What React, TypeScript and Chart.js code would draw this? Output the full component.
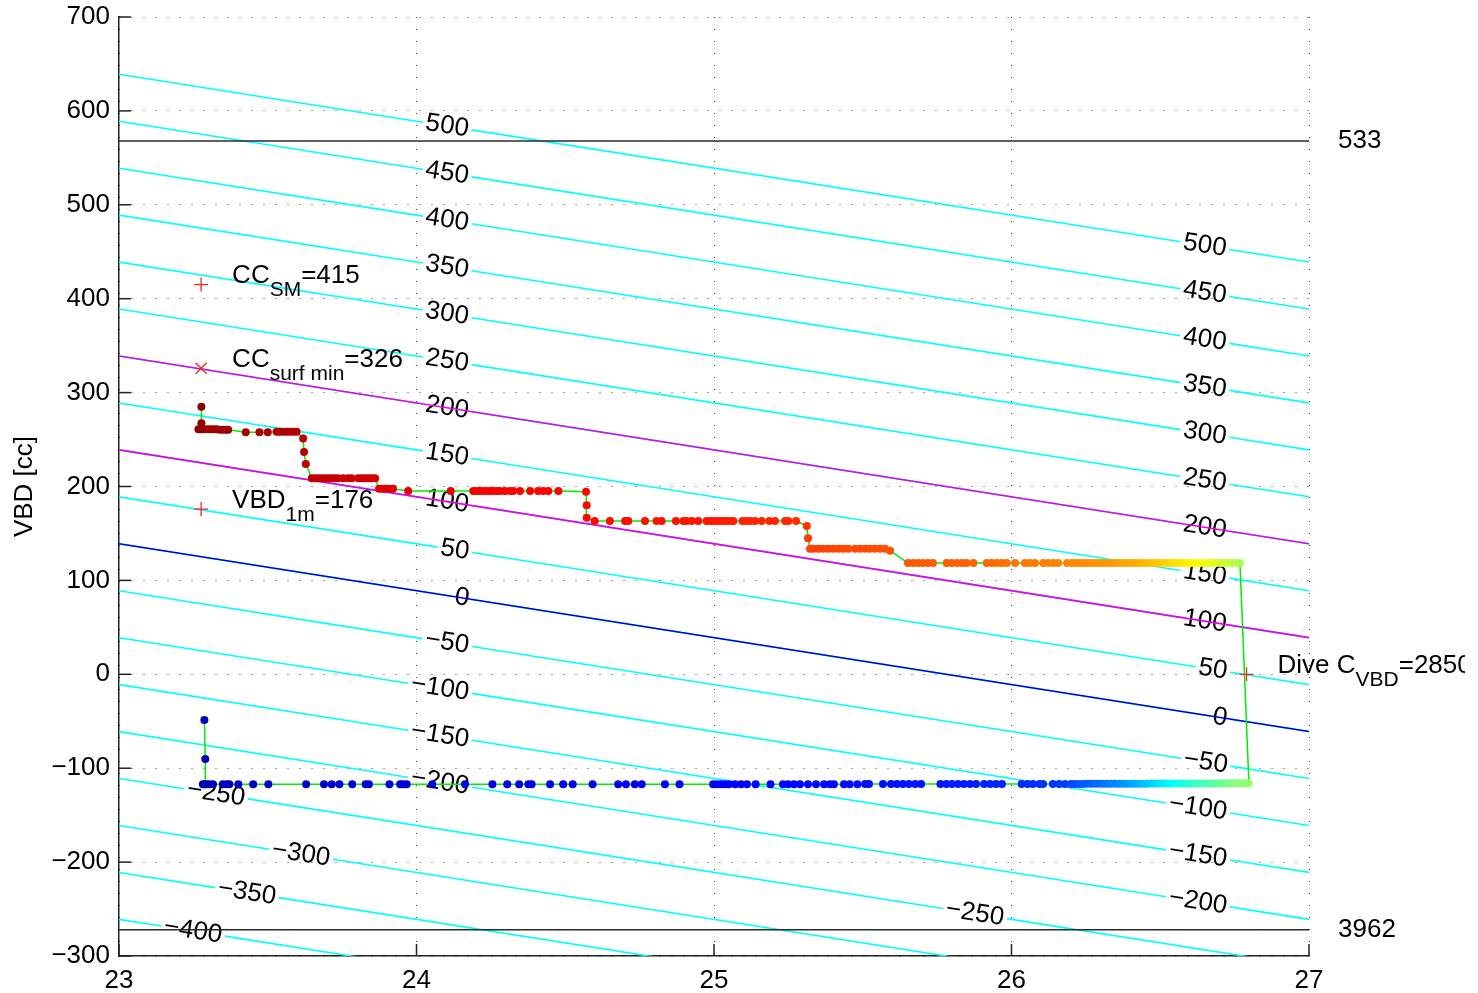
import React, { useEffect, useRef } from 'react';
import { Chart, registerables } from 'chart.js';

Chart.register(...registerables);

const FONT = '"Liberation Sans", Arial, Helvetica, sans-serif';
const FONT_SIZE = 26;

// ---- axes ----
const densityMin = 23;
const densityMax = 27;
const vbdMin = -300;
const vbdMax = 700;
const densityStep = 1;
const vbdStep = 100;
const yAxisTitle = 'VBD [cc]';

// ---- buoyancy contour lines: VBD = level + offset + slope * (density - 23) ----
const contourLevels = [-400, -350, -300, -250, -200, -150, -100, -50, 0, 50, 100, 150, 200, 250, 300, 350, 400, 450, 500];
const contourOffset = 139;
const contourSlope = -50;
const magentaLevels = [200, 100];
const blueLevels = [0];

// contour labels: [level, density at label centre]
const contourLabels: [number, number][] = [
  [500, 24.103], [450, 24.103], [400, 24.103], [350, 24.103], [300, 24.103],
  [250, 24.103], [200, 24.103], [150, 24.103], [100, 24.103], [50, 24.129],
  [0, 24.153], [-50, 24.103], [-100, 24.079], [-150, 24.079], [-200, 24.079],
  [-250, 23.326], [-300, 23.612], [-350, 23.43], [-400, 23.249], [-250, 25.877],
  [500, 26.65], [450, 26.65], [400, 26.65], [350, 26.65], [300, 26.65],
  [250, 26.65], [200, 26.65], [150, 26.65], [100, 26.65], [50, 26.677],
  [0, 26.701], [-50, 26.653], [-100, 26.627], [-150, 26.627], [-200, 26.627],
];

// ---- VBD limit lines ----
const limitVbd = [568, -272];
const limitLabels = ['533', '3962'];

// ---- annotations ----
const annotationDensity = [23.276, 23.276, 23.276, 26.79];
const annotationVbd = [415, 326, 176, 0];
const annotationMarker = ['+', 'x', '+', '+'];
const annotationMain = ['CC', 'CC', 'VBD', 'Dive C'];
const annotationSub = ['SM', 'surf min', '1m', 'VBD'];
const annotationRest = ['=415', '=326', '=176', '=2850'];

// ---- dive samples: [density, VBD, colour index (0..1, jet)] ----
const descentPoints: [number, number, number][] = [
  [23.287, -48.7, 0.05], [23.29, -90.2, 0.052], [23.29, -117.2, 0.055],
  [23.282, -117.2, 0.056], [23.292, -117.2, 0.057], [23.303, -117.2, 0.058], [23.316, -117.2, 0.059],
  [23.349, -117.2, 0.062], [23.362, -117.2, 0.063], [23.371, -117.2, 0.064], [23.401, -117.2, 0.066],
  [23.451, -117.2, 0.068], [23.502, -117.2, 0.07], [23.629, -117.2, 0.074], [23.689, -117.2, 0.076],
  [23.715, -117.2, 0.077], [23.741, -117.2, 0.078], [23.784, -117.2, 0.08], [23.829, -117.2, 0.082],
  [23.84, -117.2, 0.083], [23.909, -117.2, 0.086], [23.945, -117.2, 0.088], [23.954, -117.2, 0.089],
  [23.967, -117.2, 0.09], [24.053, -117.2, 0.093], [24.163, -117.2, 0.096], [24.255, -117.2, 0.099],
  [24.305, -117.1, 0.1], [24.345, -117.1, 0.101], [24.376, -117.1, 0.102], [24.387, -117.1, 0.103],
  [24.449, -117.1, 0.105], [24.493, -117.1, 0.106], [24.525, -117.1, 0.107], [24.592, -117.1, 0.109],
  [24.678, -117.1, 0.111], [24.704, -117.1, 0.112], [24.734, -117.1, 0.113], [24.757, -117.1, 0.114],
  [24.835, -117.0, 0.116], [24.884, -117.0, 0.117], [24.997, -117.0, 0.119], [25.01, -117.0, 0.12],
  [25.024, -117.0, 0.12], [25.037, -117.0, 0.121], [25.05, -117.0, 0.121], [25.071, -117.0, 0.122],
  [25.091, -117.0, 0.123], [25.111, -117.0, 0.124], [25.14, -117.0, 0.125], [25.19, -117.0, 0.127],
  [25.232, -117.0, 0.128], [25.249, -117.0, 0.129], [25.269, -117.0, 0.13], [25.289, -117.0, 0.13],
  [25.316, -117.0, 0.131], [25.343, -117.0, 0.132], [25.37, -117.0, 0.133], [25.39, -117.0, 0.134],
  [25.403, -117.0, 0.134], [25.437, -117.0, 0.135], [25.456, -117.0, 0.136], [25.482, -117.0, 0.137],
  [25.508, -116.9, 0.138], [25.521, -116.9, 0.138], [25.568, -116.9, 0.14], [25.595, -116.9, 0.141],
  [25.615, -116.9, 0.142], [25.635, -116.9, 0.143], [25.655, -116.9, 0.144], [25.676, -116.9, 0.145],
  [25.696, -116.9, 0.146], [25.761, -116.9, 0.149], [25.781, -116.9, 0.15], [25.8, -116.9, 0.151],
  [25.82, -116.8, 0.152], [25.84, -116.8, 0.153], [25.861, -116.8, 0.154], [25.881, -116.8, 0.155],
  [25.908, -116.8, 0.157], [25.928, -116.8, 0.158], [25.948, -116.8, 0.159], [25.968, -116.8, 0.16],
  [26.034, -116.8, 0.165], [26.054, -116.8, 0.167], [26.072, -116.8, 0.169], [26.094, -116.8, 0.171],
  [26.106, -116.7, 0.173], [26.139, -116.7, 0.177], [26.16, -116.7, 0.18], [26.18, -116.7, 0.184],
  [26.2, -116.7, 0.19], [26.213, -116.7, 0.2], [26.227, -116.7, 0.205], [26.24, -116.7, 0.21],
  [26.254, -116.6, 0.215], [26.267, -116.6, 0.22], [26.281, -116.6, 0.226], [26.294, -116.6, 0.232],
  [26.308, -116.6, 0.238], [26.321, -116.6, 0.244], [26.334, -116.6, 0.25], [26.348, -116.6, 0.257],
  [26.361, -116.5, 0.264], [26.375, -116.5, 0.271], [26.388, -116.5, 0.278], [26.402, -116.5, 0.286],
  [26.415, -116.5, 0.294], [26.429, -116.5, 0.302], [26.442, -116.5, 0.31], [26.455, -116.5, 0.318],
  [26.469, -116.4, 0.327], [26.482, -116.4, 0.336], [26.496, -116.4, 0.345], [26.509, -116.4, 0.354],
  [26.523, -116.4, 0.363], [26.536, -116.4, 0.372], [26.55, -116.4, 0.381], [26.563, -116.3, 0.39],
  [26.576, -116.3, 0.399], [26.59, -116.3, 0.408], [26.603, -116.3, 0.417], [26.617, -116.3, 0.426],
  [26.63, -116.3, 0.435], [26.644, -116.2, 0.443], [26.657, -116.2, 0.451], [26.671, -116.2, 0.459],
  [26.684, -116.2, 0.467], [26.697, -116.2, 0.475], [26.711, -116.1, 0.482], [26.724, -116.1, 0.489],
  [26.738, -116.1, 0.495], [26.751, -116.1, 0.501], [26.765, -116.0, 0.506], [26.778, -116.0, 0.511],
  [26.791, -116.0, 0.515], [26.798, -116.0, 0.518],
];

const climbPoints: [number, number, number][] = [
  [26.768, 118.4, 0.54], [26.755, 118.4, 0.548], [26.741, 118.4, 0.556], [26.728, 118.4, 0.564],
  [26.714, 118.4, 0.572], [26.701, 118.4, 0.58], [26.687, 118.4, 0.588], [26.674, 118.4, 0.596],
  [26.661, 118.4, 0.603], [26.647, 118.4, 0.61], [26.634, 118.4, 0.616], [26.62, 118.4, 0.622],
  [26.607, 118.4, 0.628], [26.593, 118.4, 0.634], [26.58, 118.4, 0.64], [26.566, 118.4, 0.646],
  [26.553, 118.4, 0.652], [26.539, 118.4, 0.658], [26.526, 118.4, 0.664], [26.513, 118.4, 0.669],
  [26.499, 118.4, 0.674], [26.486, 118.4, 0.679], [26.472, 118.4, 0.684], [26.459, 118.4, 0.689],
  [26.445, 118.4, 0.693], [26.432, 118.4, 0.697], [26.418, 118.4, 0.701], [26.405, 118.4, 0.705],
  [26.392, 118.4, 0.709], [26.378, 118.4, 0.712], [26.365, 118.4, 0.715], [26.351, 118.4, 0.718],
  [26.338, 118.4, 0.721], [26.324, 118.4, 0.724], [26.311, 118.4, 0.727], [26.297, 118.4, 0.729],
  [26.284, 118.4, 0.731], [26.271, 118.4, 0.733], [26.257, 118.4, 0.735], [26.244, 118.4, 0.737],
  [26.23, 118.4, 0.739], [26.217, 118.4, 0.741], [26.203, 118.4, 0.742], [26.187, 118.4, 0.744],
  [26.157, 118.4, 0.746], [26.141, 118.4, 0.748], [26.124, 118.4, 0.75], [26.107, 118.4, 0.752],
  [26.079, 118.4, 0.755], [26.062, 118.4, 0.757], [26.045, 118.4, 0.759], [26.012, 118.4, 0.762],
  [25.984, 118.4, 0.765], [25.967, 118.4, 0.767], [25.95, 118.4, 0.769], [25.933, 118.4, 0.771],
  [25.917, 118.4, 0.773], [25.872, 118.4, 0.776], [25.849, 118.4, 0.778], [25.833, 118.4, 0.78],
  [25.816, 118.4, 0.781], [25.799, 118.4, 0.782], [25.782, 118.4, 0.783], [25.736, 118.4, 0.785],
  [25.719, 118.4, 0.786], [25.703, 118.4, 0.787], [25.686, 118.4, 0.788], [25.669, 118.4, 0.789],
  [25.652, 118.4, 0.79], [25.592, 131.7, 0.795],
  [25.575, 133.8, 0.797], [25.558, 133.8, 0.798], [25.541, 133.8, 0.799], [25.524, 133.8, 0.8],
  [25.508, 133.8, 0.801], [25.491, 133.8, 0.802], [25.474, 133.8, 0.803], [25.451, 133.8, 0.804],
  [25.435, 133.8, 0.805], [25.418, 133.8, 0.806], [25.401, 133.8, 0.807], [25.384, 133.8, 0.808],
  [25.367, 133.8, 0.809], [25.351, 133.8, 0.81], [25.334, 133.8, 0.811], [25.323, 133.8, 0.812],
  [25.316, 144.8, 0.818], [25.312, 157.9, 0.826],
  [25.276, 163.3, 0.834], [25.25, 163.3, 0.835], [25.239, 163.3, 0.836], [25.205, 163.3, 0.837],
  [25.186, 163.3, 0.838], [25.16, 163.3, 0.839], [25.138, 163.3, 0.84], [25.123, 163.3, 0.841],
  [25.11, 163.3, 0.842], [25.096, 163.3, 0.843], [25.065, 163.3, 0.844], [25.054, 163.3, 0.845],
  [25.043, 163.3, 0.846], [25.031, 163.3, 0.847], [25.02, 163.3, 0.848], [25.009, 163.3, 0.849],
  [24.998, 163.3, 0.85], [24.987, 163.3, 0.851], [24.975, 163.3, 0.852], [24.947, 163.3, 0.853],
  [24.925, 163.3, 0.854], [24.908, 163.3, 0.855], [24.897, 163.3, 0.856], [24.872, 163.3, 0.857],
  [24.824, 163.3, 0.858], [24.807, 163.3, 0.859], [24.768, 163.3, 0.86], [24.712, 163.3, 0.862],
  [24.701, 163.3, 0.863], [24.65, 163.3, 0.864], [24.599, 163.3, 0.866],
  [24.572, 166.8, 0.868], [24.572, 180.0, 0.869], [24.57, 194.5, 0.87],
  [24.477, 195.2, 0.872], [24.443, 195.2, 0.873], [24.426, 195.2, 0.874], [24.409, 195.2, 0.875],
  [24.382, 195.2, 0.876], [24.348, 195.2, 0.877], [24.325, 195.2, 0.878], [24.314, 195.2, 0.879],
  [24.297, 195.2, 0.88], [24.281, 195.2, 0.881], [24.27, 195.2, 0.882], [24.258, 195.2, 0.883],
  [24.247, 195.2, 0.884], [24.236, 195.2, 0.885], [24.225, 195.2, 0.886], [24.213, 195.2, 0.887],
  [24.202, 195.2, 0.888], [24.191, 195.2, 0.889], [24.115, 195.2, 0.892], [23.972, 195.2, 0.897],
  [23.921, 197.7, 0.902], [23.908, 197.7, 0.903], [23.894, 197.7, 0.904], [23.884, 197.7, 0.905],
  [23.874, 197.7, 0.906],
  [23.861, 208.7, 0.92], [23.849, 208.7, 0.921], [23.838, 208.7, 0.922], [23.827, 208.7, 0.923],
  [23.816, 208.7, 0.924], [23.804, 208.7, 0.925], [23.782, 208.7, 0.926], [23.771, 208.7, 0.927],
  [23.754, 208.7, 0.928], [23.737, 208.7, 0.929], [23.726, 208.7, 0.93], [23.715, 208.7, 0.931],
  [23.704, 208.7, 0.932], [23.692, 208.7, 0.933], [23.681, 208.7, 0.934], [23.67, 208.7, 0.935],
  [23.659, 208.7, 0.936], [23.648, 208.7, 0.937],
  [23.628, 224.0, 0.94], [23.622, 236.7, 0.942], [23.619, 251.0, 0.944],
  [23.597, 258.2, 0.946], [23.586, 258.2, 0.947], [23.575, 258.2, 0.948], [23.564, 258.2, 0.949],
  [23.552, 258.2, 0.95], [23.541, 258.2, 0.951], [23.53, 258.2, 0.952], [23.5, 257.7, 0.955],
  [23.472, 257.7, 0.958], [23.426, 257.7, 0.962],
  [23.367, 260.5, 0.966], [23.362, 260.5, 0.967], [23.351, 260.5, 0.968], [23.339, 260.5, 0.969],
  [23.328, 260.9, 0.97], [23.317, 260.9, 0.971], [23.306, 260.9, 0.972], [23.295, 260.9, 0.974],
  [23.283, 260.9, 0.976], [23.275, 260.9, 0.978], [23.267, 260.9, 0.98],
  [23.277, 267.3, 0.985], [23.277, 285.0, 0.995],
];

const clamp01 = (v: number) => Math.max(0, Math.min(1, v));
function jet(c: number): string {
  const r = clamp01(1.5 - Math.abs(4 * c - 3));
  const g = clamp01(1.5 - Math.abs(4 * c - 2));
  const b = clamp01(1.5 - Math.abs(4 * c - 1));
  return `rgb(${Math.round(r * 255)},${Math.round(g * 255)},${Math.round(b * 255)})`;
}

const minusSign = (v: number | string) => String(v).replace('-', '\u2212');

const overlayPlugin = {
  id: 'glideOverlay',
  beforeDatasetsDraw(chart: any) {
    const { ctx, chartArea, scales } = chart;
    const xs = scales.x;
    const ys = scales.y;
    const lineVbd = (level: number, d: number) => level + contourOffset + contourSlope * (d - densityMin);
    const pt = (level: number, d: number) => ({ x: xs.getPixelForValue(d), y: ys.getPixelForValue(lineVbd(level, d)) });

    ctx.save();
    ctx.beginPath();
    ctx.rect(chartArea.left, chartArea.top, chartArea.right - chartArea.left, chartArea.bottom - chartArea.top);
    ctx.clip();
    ctx.font = `${FONT_SIZE}px ${FONT}`;

    // cyan contour lines with gaps for labels
    for (const level of contourLevels) {
      const p0 = pt(level, densityMin);
      const p1 = pt(level, densityMax);
      const dx = p1.x - p0.x;
      const dy = p1.y - p0.y;
      const len = Math.hypot(dx, dy);
      const gaps: [number, number][] = [];
      for (const [lv, d] of contourLabels) {
        if (lv !== level) continue;
        const p = pt(level, d);
        const t = ((p.x - p0.x) / dx) * len;
        const half = ctx.measureText(minusSign(lv)).width / 2 + 3;
        gaps.push([t - half, t + half]);
      }
      gaps.sort((a, b) => a[0] - b[0]);
      ctx.strokeStyle = '#00ffff';
      ctx.lineWidth = 1.6;
      let start = 0;
      const segs: [number, number][] = [];
      for (const [g0, g1] of gaps) {
        if (g0 > start) segs.push([start, g0]);
        start = Math.max(start, g1);
      }
      if (start < len) segs.push([start, len]);
      for (const [a, b] of segs) {
        ctx.beginPath();
        ctx.moveTo(p0.x + (dx * a) / len, p0.y + (dy * a) / len);
        ctx.lineTo(p0.x + (dx * b) / len, p0.y + (dy * b) / len);
        ctx.stroke();
      }
    }

    // contour labels
    ctx.fillStyle = '#000';
    ctx.textAlign = 'center';
    ctx.textBaseline = 'middle';
    for (const [lv, d] of contourLabels) {
      const p0 = pt(lv, densityMin);
      const p1 = pt(lv, densityMax);
      const ang = Math.atan2(p1.y - p0.y, p1.x - p0.x);
      const p = pt(lv, d);
      ctx.save();
      ctx.translate(p.x, p.y);
      ctx.rotate(ang);
      ctx.fillText(minusSign(lv), 0, 0);
      ctx.restore();
    }

    // highlighted levels
    const drawFull = (level: number, color: string) => {
      const p0 = pt(level, densityMin);
      const p1 = pt(level, densityMax);
      ctx.strokeStyle = color;
      ctx.lineWidth = 1.6;
      ctx.beginPath();
      ctx.moveTo(p0.x, p0.y);
      ctx.lineTo(p1.x, p1.y);
      ctx.stroke();
    };
    magentaLevels.forEach((l) => drawFull(l, '#e800e8'));
    blueLevels.forEach((l) => drawFull(l, '#0000e6'));

    // limit lines
    ctx.strokeStyle = '#2a2a2a';
    ctx.lineWidth = 1.6;
    for (const v of limitVbd) {
      const py = ys.getPixelForValue(v);
      ctx.beginPath();
      ctx.moveTo(chartArea.left, py);
      ctx.lineTo(chartArea.right, py);
      ctx.stroke();
    }
    ctx.restore();

    // limit labels
    ctx.save();
    ctx.font = `${FONT_SIZE}px ${FONT}`;
    ctx.fillStyle = '#000';
    ctx.textAlign = 'left';
    ctx.textBaseline = 'middle';
    limitVbd.forEach((v, i) => {
      ctx.fillText(limitLabels[i], chartArea.right + 29, ys.getPixelForValue(v));
    });

    // inward ticks
    ctx.strokeStyle = '#222';
    ctx.lineWidth = 1.5;
    for (let v = vbdMin; v <= vbdMax; v += vbdStep) {
      const py = ys.getPixelForValue(v);
      ctx.beginPath();
      ctx.moveTo(chartArea.left, py);
      ctx.lineTo(chartArea.left + 12, py);
      ctx.stroke();
    }
    for (let d = densityMin; d <= densityMax; d += densityStep) {
      const px = xs.getPixelForValue(d);
      ctx.beginPath();
      ctx.moveTo(px, chartArea.bottom);
      ctx.lineTo(px, chartArea.bottom - 12);
      ctx.stroke();
    }

    // y-axis title
    ctx.translate(25, (chartArea.top + chartArea.bottom) / 2);
    ctx.rotate(-Math.PI / 2);
    ctx.textAlign = 'center';
    ctx.fillText(yAxisTitle, 0, 0);
    ctx.restore();
  },
  afterDatasetsDraw(chart: any) {
    const { ctx, scales } = chart;
    const xs = scales.x;
    const ys = scales.y;
    ctx.save();
    // the original figure is cropped a little before the canvas edge
    ctx.beginPath();
    ctx.rect(0, 0, 1465, chart.height);
    ctx.clip();
    annotationDensity.forEach((d, i) => {
      const px = xs.getPixelForValue(d);
      const py = ys.getPixelForValue(annotationVbd[i]);
      ctx.strokeStyle = '#ff2020';
      ctx.lineWidth = 1.3;
      ctx.beginPath();
      if (annotationMarker[i] === '+') {
        ctx.moveTo(px - 7, py);
        ctx.lineTo(px + 7, py);
        ctx.moveTo(px, py - 7);
        ctx.lineTo(px, py + 7);
      } else {
        ctx.moveTo(px - 5.5, py - 5.5);
        ctx.lineTo(px + 5.5, py + 5.5);
        ctx.moveTo(px - 5.5, py + 5.5);
        ctx.lineTo(px + 5.5, py - 5.5);
      }
      ctx.stroke();

      ctx.fillStyle = '#000';
      ctx.textAlign = 'left';
      ctx.textBaseline = 'alphabetic';
      let tx = px + 31;
      const base = py - 1.5;
      ctx.font = `${FONT_SIZE}px ${FONT}`;
      ctx.fillText(annotationMain[i], tx, base);
      tx += ctx.measureText(annotationMain[i]).width;
      ctx.font = `21px ${FONT}`;
      ctx.fillText(annotationSub[i], tx, base + 13);
      tx += ctx.measureText(annotationSub[i]).width;
      ctx.font = `${FONT_SIZE}px ${FONT}`;
      ctx.fillText(annotationRest[i], tx, base);
    });
    ctx.restore();
  },
};

export default function App() {
  const canvasRef = useRef<HTMLCanvasElement | null>(null);

  useEffect(() => {
    const canvas = canvasRef.current;
    if (!canvas) return;
    const toXY = (p: [number, number, number]) => ({ x: p[0], y: p[1] });
    const pathData = [...descentPoints, ...climbPoints].map(toXY);

    const chart = new Chart(canvas, {
      type: 'scatter',
      data: {
        datasets: [
          {
            label: 'path',
            data: pathData,
            showLine: true,
            borderColor: '#00ee00',
            borderWidth: 1.5,
            pointRadius: 0,
            pointHoverRadius: 0,
            order: 3,
          } as any,
          {
            label: 'descent',
            data: descentPoints.map(toXY),
            pointRadius: 4,
            pointHoverRadius: 4,
            pointBorderWidth: 0,
            pointBackgroundColor: descentPoints.map((p) => jet(p[2])),
            order: 2,
          },
          {
            label: 'climb',
            data: climbPoints.map(toXY),
            pointRadius: 4,
            pointHoverRadius: 4,
            pointBorderWidth: 0,
            pointBackgroundColor: climbPoints.map((p) => jet(p[2])),
            order: 1,
          },
        ],
      },
      options: {
        responsive: false,
        animation: false,
        events: [],
        layout: { padding: { top: 17, right: 169, left: 0, bottom: 0 } },
        plugins: { legend: { display: false }, tooltip: { enabled: false }, title: { display: false } },
        scales: {
          x: {
            type: 'linear',
            min: densityMin,
            max: densityMax,
            afterFit: (s: any) => {
              s.height = 37;
              s.paddingLeft = 0;
              s.paddingRight = 0;
            },
            ticks: {
              stepSize: densityStep,
              autoSkip: false,
              maxRotation: 0,
              padding: 9,
              color: '#000',
              font: { family: FONT, size: FONT_SIZE },
              callback: (v: any) => minusSign(v),
            },
            grid: { color: 'rgba(0,0,0,0.75)', lineWidth: 1, drawTicks: false },
            border: { display: true, color: '#222', width: 1.5, dash: [1, 11] },
          },
          y: {
            type: 'linear',
            min: vbdMin,
            max: vbdMax,
            afterFit: (s: any) => {
              s.width = 119;
              s.paddingTop = 0;
              s.paddingBottom = 0;
            },
            ticks: {
              stepSize: vbdStep,
              autoSkip: false,
              padding: 9,
              color: '#000',
              font: { family: FONT, size: FONT_SIZE },
              callback: (v: any) => minusSign(v),
            },
            grid: { color: 'rgba(0,0,0,0.75)', lineWidth: 1, drawTicks: false },
            border: { display: true, color: '#222', width: 1.5, dash: [1, 11] },
          },
        },
      },
      plugins: [overlayPlugin],
    });
    return () => chart.destroy();
  }, []);

  return (
    <div style={{ position: 'fixed', left: 0, top: 0, width: 1478, height: 993, background: '#fff' }}>
      <canvas ref={canvasRef} width={1478} height={993} style={{ display: 'block' }} />
    </div>
  );
}
